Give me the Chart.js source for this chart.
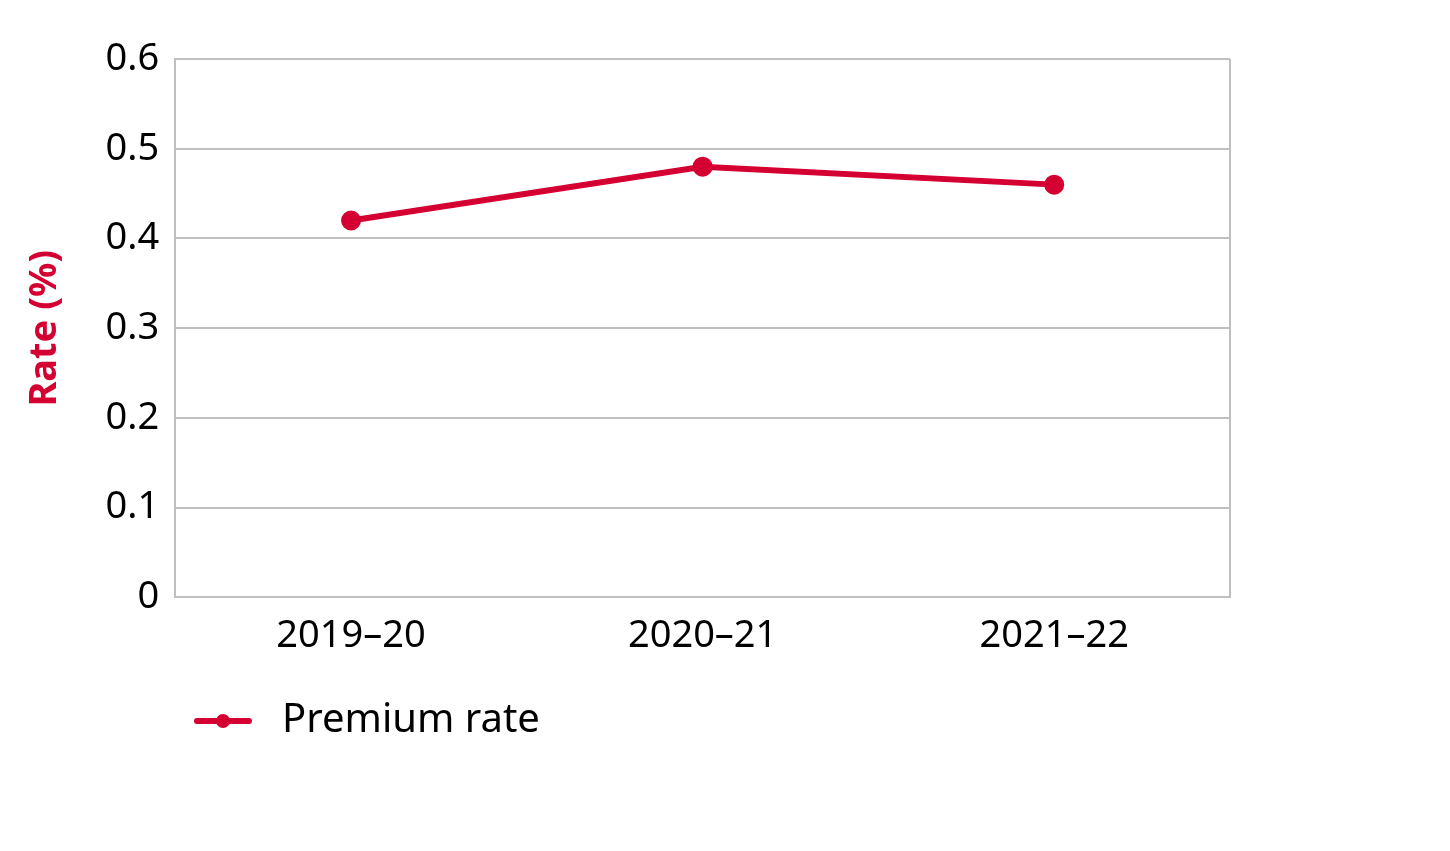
<!DOCTYPE html>
<html>
<head>
<meta charset="utf-8">
<script src="https://cdn.jsdelivr.net/npm/chart.js@4"></script>
<style>
html,body{margin:0;padding:0;background:#fff}
#wrap{width:1450px;height:851px}
</style>
</head>
<body>
<div id="wrap"><canvas id="c" width="1450" height="851"></canvas></div>
<script>
const years = ["2019\u201320","2020\u201321","2021\u201322"]
const premiumRate = [0.42,0.48,0.46]
const yTicks = [0,0.1,0.2,0.3,0.4,0.5,0.6]
const seriesName = "Premium rate"

const red = "#d50032"
const fontFam = "'Noto Sans', sans-serif"

// box round the plot + legend drawn under the axis
const framePlugin = {
id:"frame",
afterDraw(chart){
const ctx = chart.ctx
const a = chart.chartArea
ctx.save()
ctx.strokeStyle = "#bfbfbf"
ctx.lineWidth = 2
ctx.beginPath()
ctx.moveTo(a.right, a.top)
ctx.lineTo(a.right, a.bottom)
ctx.stroke()

// legend
const ly = 721
const lx = 197
ctx.strokeStyle = red
ctx.lineWidth = 6
ctx.lineCap = "round"
ctx.beginPath()
ctx.moveTo(lx, ly)
ctx.lineTo(lx+52, ly)
ctx.stroke()
ctx.fillStyle = red
ctx.beginPath()
ctx.arc(lx+26, ly, 7, 0, Math.PI*2)
ctx.fill()
ctx.fillStyle = "#000"
ctx.font = "40px " + fontFam
ctx.textBaseline = "middle"
ctx.fillText(chart.data.datasets[0].label, lx+85, ly)
ctx.restore()
}
}

new Chart(document.getElementById("c"),{
type:"line",
data:{
labels: years,
datasets:[{
label: seriesName,
data: premiumRate,
borderColor: red,
backgroundColor: red,
borderWidth: 6,
pointRadius: 7,
pointHoverRadius: 7,
fill:false,
tension:0
}]
},
options:{
responsive:false,
animation:false,
layout:{padding:{top:59,right:220,bottom:184,left:18}},
plugins:{legend:{display:false},tooltip:{enabled:false}},
scales:{
x:{
offset:true,
grid:{display:false},
border:{color:"#bfbfbf",width:2},
ticks:{color:"#000",font:{size:38,family:fontFam},padding:8}
},
y:{
min:0,max:0.6,
afterBuildTicks(s){ s.ticks = yTicks.map(v=>({value:v})) },
grid:{color:"#bfbfbf",lineWidth:2,drawTicks:false},
border:{color:"#bfbfbf",width:2},
ticks:{color:"#000",font:{size:38,family:fontFam},padding:16,
callback:v=>String(v)},
title:{display:true,text:"Rate (%)",color:red,
font:{size:38,weight:"bold",family:fontFam},padding:{bottom:22}}
}
}
},
plugins:[framePlugin]
})
</script>
</body>
</html>
